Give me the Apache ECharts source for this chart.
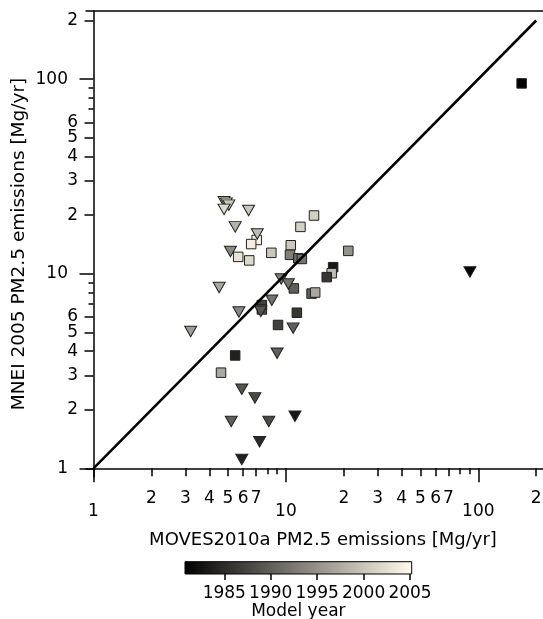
<!DOCTYPE html>
<html>
<head>
<meta charset="utf-8">
<script src="https://cdn.jsdelivr.net/npm/echarts@6/dist/echarts.min.js"></script>
<style>
html,body{margin:0;padding:0;background:#fff;}
#chart{width:543px;height:619px;}
</style>
</head>
<body>
<div id="chart"></div>
<script>
// ---- data (MOVES2010a x, MNEI 2005 y, model year) ----
const squareX    = [168, 14.0, 11.9, 7.05, 6.6, 10.6, 8.4, 21.1, 5.65, 6.45, 10.5, 11.6, 12.1, 17.6, 17.3, 16.3, 11.0, 13.6, 14.2, 7.5, 7.5, 11.4, 9.1, 5.45, 4.6];
const squareY    = [95, 19.9, 17.4, 14.9, 14.2, 14.0, 12.8, 13.1, 12.2, 11.7, 12.5, 12.0, 11.9, 10.8, 10.05, 9.6, 8.4, 7.9, 8.0, 6.9, 6.55, 6.3, 5.45, 3.8, 3.1];
const squareYear = [1981, 2001, 2001, 2005, 2004, 2000, 2000, 1995, 2003, 2002, 1993, 1991, 1992, 1983, 1999, 1986, 1990, 1990, 1997, 1987, 1988, 1986, 1987, 1984, 1997];

const triX    = [90.5, 4.77, 4.9, 5.05, 4.77, 6.4, 5.45, 7.1, 5.15, 4.5, 9.45, 10.3, 8.45, 5.7, 7.4, 3.2, 10.9, 9.0, 5.9, 6.9, 5.2, 8.15, 11.15, 7.3, 5.9];
const triY    = [10.2, 23.4, 23.0, 22.5, 21.4, 21.1, 17.4, 16.0, 13.0, 8.5, 9.4, 8.85, 7.3, 6.35, 6.4, 5.05, 5.25, 3.9, 2.55, 2.3, 1.74, 1.74, 1.85, 1.37, 1.11];
const triYear = [1981, 2005, 2004, 2000, 2002, 2000, 1998, 1999, 1994, 1997, 1993, 1992, 1992, 1994, 1989, 1996, 1990, 1990, 1989, 1988, 1990, 1988, 1983, 1985, 1984];

const identityLine = [1, 200];

// ---- axes / tick labels ----
const X_MIN = 0.914, X_MAX = 265.9;
const Y_MIN = 0.902, Y_MAX = 223.8;
const xDecadeTicks   = [1, 10, 100];
const xMinorLabeled  = [2, 3, 4, 5, 6, 7, 20, 30, 40, 50, 60, 70, 200];
const xMinorPlain    = [8, 9, 80, 90];
const yDecadeTicks   = [1, 10, 100];
const yMinorLabeled  = [2, 3, 4, 5, 6, 20, 30, 40, 50, 60, 200];
const yMinorPlain    = [7, 8, 9, 70, 80, 90];
const yearTicks      = [1985, 1990, 1995, 2000, 2005];
const YEAR_MIN = 1980.77, YEAR_MAX = 2005.18;
const rampColors = ['#000000', '#fffbec'];

const xTitle = 'MOVES2010a PM2.5 emissions [Mg/yr]';
const yTitle = 'MNEI 2005 PM2.5 emissions [Mg/yr]';
const cbTitle = 'Model year';

// ---- build ----
const FONT = 'DejaVu Sans';
const lg = v => Math.log10(v);
const decadeFmt = v => String(Math.round(Math.pow(10, v)));
const minorFmt = v => {
  const d = Math.pow(10, Math.floor(v + 1e-9));
  return String(Math.round(Math.pow(10, v) / d));
};
const lineStyle = {color: '#000', width: 1.5};
const labelStyle = {color: '#000', fontFamily: FONT, fontSize: 17};

function tickOnlyAxis(min, max, ticks, len, pos) {
  return {
    type: 'value', gridIndex: 0, position: pos,
    min: lg(min), max: lg(max),
    axisLine: {show: false}, splitLine: {show: false},
    axisTick: {show: true, inside: false, length: len, customValues: ticks.map(lg), lineStyle: lineStyle},
    axisLabel: {show: false}
  };
}
function labelOnlyAxis(min, max, labels, margin, fmt, pos) {
  return {
    type: 'value', gridIndex: 0, position: pos,
    min: lg(min), max: lg(max),
    axisLine: {show: false}, splitLine: {show: false}, axisTick: {show: false},
    axisLabel: Object.assign({show: true, margin: margin, formatter: fmt, customValues: labels.map(lg)}, labelStyle)
  };
}

const toData = (xs, ys, yrs) => xs.map((x, i) => [x, ys[i], yrs[i]]);

const gradient = {
  type: 'linear', x: 0, y: 0, x2: 1, y2: 0,
  colorStops: [{offset: 0, color: rampColors[0]}, {offset: 1, color: rampColors[1]}]
};

const option = {
  animation: false,
  textStyle: {fontFamily: FONT},
  grid: [
    {left: 86, top: 11, right: -17, bottom: 142, outerBoundsMode: 'none', containLabel: false},
    {left: 185, top: 561.7, width: 226.7, height: 12.3, outerBoundsMode: 'none', containLabel: false,
     show: true, borderColor: '#000', borderWidth: 1, backgroundColor: gradient}
  ],
  xAxis: [
    {type: 'log', logBase: 10, gridIndex: 0, min: X_MIN, max: X_MAX, position: 'bottom',
     axisLine: {show: true, lineStyle: lineStyle}, axisTick: {show: false}, axisLabel: {show: false}, splitLine: {show: false},
     name: xTitle, nameLocation: 'middle', nameGap: 54,
     nameTextStyle: {color: '#000', fontFamily: FONT, fontSize: 18}},
    tickOnlyAxis(X_MIN, X_MAX, xDecadeTicks, 14, 'bottom'),
    tickOnlyAxis(X_MIN, X_MAX, xMinorLabeled, 8, 'bottom'),
    tickOnlyAxis(X_MIN, X_MAX, xMinorPlain, 6, 'bottom'),
    labelOnlyAxis(X_MIN, X_MAX, xDecadeTicks, 26, decadeFmt, 'bottom'),
    labelOnlyAxis(X_MIN, X_MAX, xMinorLabeled, 13, minorFmt, 'bottom'),
    {type: 'log', logBase: 10, gridIndex: 0, min: X_MIN, max: X_MAX, position: 'top',
     axisLine: {show: true, lineStyle: lineStyle}, axisTick: {show: false}, axisLabel: {show: false}, splitLine: {show: false}},
    {type: 'value', gridIndex: 1, min: YEAR_MIN, max: YEAR_MAX, position: 'bottom',
     axisLine: {show: false}, splitLine: {show: false},
     axisTick: {show: true, length: 6, customValues: yearTicks, lineStyle: lineStyle},
     axisLabel: {show: false}},
    {type: 'value', gridIndex: 1, min: YEAR_MIN, max: YEAR_MAX, position: 'bottom',
     axisLine: {show: false}, splitLine: {show: false}, axisTick: {show: false},
     axisLabel: Object.assign({show: true, margin: 11, customValues: yearTicks, formatter: v => String(v)}, labelStyle),
     name: cbTitle, nameLocation: 'middle', nameGap: 25,
     nameTextStyle: {color: '#000', fontFamily: FONT, fontSize: 17}}
  ],
  yAxis: [
    {type: 'log', logBase: 10, gridIndex: 0, min: Y_MIN, max: Y_MAX, position: 'left',
     axisLine: {show: true, lineStyle: lineStyle}, axisTick: {show: false}, axisLabel: {show: false}, splitLine: {show: false},
     name: yTitle, nameLocation: 'middle', nameGap: 57,
     nameTextStyle: {color: '#000', fontFamily: FONT, fontSize: 18.5}},
    tickOnlyAxis(Y_MIN, Y_MAX, yDecadeTicks, 14, 'left'),
    tickOnlyAxis(Y_MIN, Y_MAX, yMinorLabeled, 9, 'left'),
    tickOnlyAxis(Y_MIN, Y_MAX, yMinorPlain, 5, 'left'),
    labelOnlyAxis(Y_MIN, Y_MAX, yDecadeTicks, 18, decadeFmt, 'left'),
    labelOnlyAxis(Y_MIN, Y_MAX, yMinorLabeled, 8, minorFmt, 'left'),
    {type: 'value', gridIndex: 1, min: 0, max: 1, show: false}
  ],
  visualMap: {
    show: false, type: 'continuous', dimension: 2, seriesIndex: [0, 1],
    min: YEAR_MIN, max: YEAR_MAX, inRange: {color: rampColors}
  },
  series: [
    {type: 'scatter', name: 'squares', xAxisIndex: 0, yAxisIndex: 0, symbol: 'rect', symbolSize: 9.5,
     data: toData(squareX, squareY, squareYear),
     itemStyle: {opacity: 1, borderColor: '#222', borderWidth: 1}, emphasis: {disabled: true}, z: 2},
    {type: 'scatter', name: 'triangles', xAxisIndex: 0, yAxisIndex: 0, symbol: 'triangle', symbolRotate: 180, symbolSize: [12, 10.5],
     data: toData(triX, triY, triYear),
     itemStyle: {opacity: 1, borderColor: '#222', borderWidth: 1}, emphasis: {disabled: true}, z: 2},
    {type: 'line', name: '1:1', xAxisIndex: 0, yAxisIndex: 0, symbol: 'none',
     data: identityLine.map(v => [v, v]),
     lineStyle: {color: '#000', width: 2.5}, emphasis: {disabled: true}, z: 3}
  ]
};

const chart = echarts.init(document.getElementById('chart'), null, {renderer: 'canvas'});
chart.setOption(option);
</script>
</body>
</html>
